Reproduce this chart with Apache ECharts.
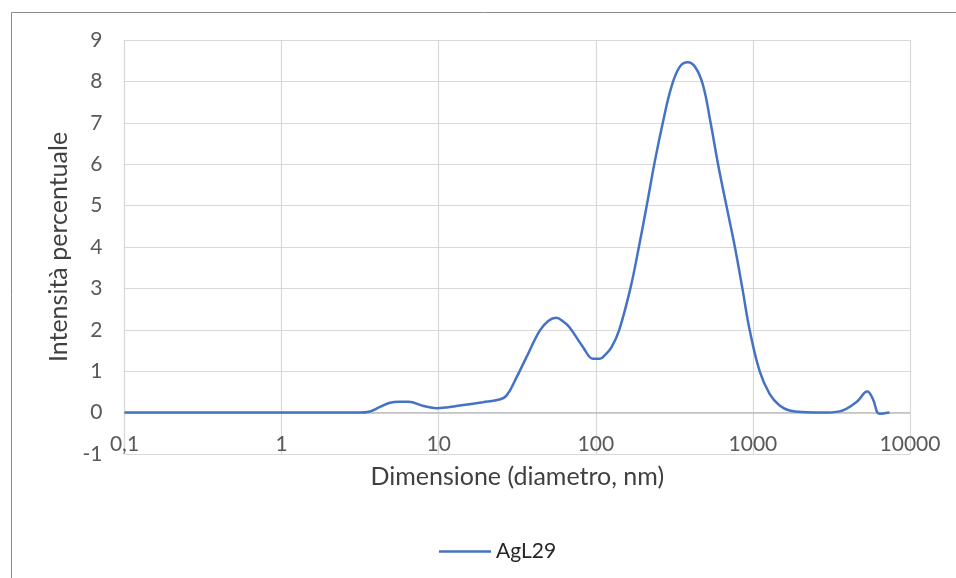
<!DOCTYPE html>
<html>
<head>
<meta charset="utf-8">
<script src="https://cdn.jsdelivr.net/npm/echarts@6/dist/echarts.min.js"></script>
<style>
  html, body { margin: 0; padding: 0; background: #fff; }
  #chart { width: 956px; height: 578px; }
</style>
</head>
<body>
<div id="chart"></div>
<script>
/*
 * Distribuzione dimensionale (DLS) del campione AgL29 — intensita vs diametro, asse x log.
 */
var seriesName = 'AgL29';
var diametri = [0.1, 0.5, 1, 2, 3.15, 3.6, 4.2, 4.9, 5.6, 6.4, 8.0, 9.7, 11.5, 13.6, 19.1, 23.9, 27, 31.3, 36.2, 44, 50, 56, 62, 68, 83, 96, 106, 115, 126, 141, 166, 188, 211, 237, 267, 302, 342, 385, 432, 482, 538, 600, 678, 768, 857, 953, 1104, 1277, 1479, 1710, 2200, 2790, 3560, 4550, 5350, 5800, 6400, 7400];
var intensita = [0, 0, 0, 0, 0, 0.02, 0.13, 0.24, 0.26, 0.26, 0.16, 0.105, 0.13, 0.17, 0.25, 0.31, 0.41, 0.85, 1.34, 1.98, 2.22, 2.29, 2.2, 2.06, 1.58, 1.30, 1.30, 1.40, 1.58, 2.0, 3.0, 4.0, 5.0, 6.05, 7.0, 7.85, 8.35, 8.46, 8.33, 7.9, 7.0, 6.0, 5.0, 4.0, 3.0, 2.0, 1.0, 0.45, 0.17, 0.05, 0.01, 0, 0.03, 0.25, 0.51, 0.33, -0.03, 0];

var FONT = 'Lato, "Open Sans", sans-serif';
var LINE_COLOR = '#4472c4';

var chart = echarts.init(document.getElementById('chart'));
chart.setOption({
  animation: false,
  textStyle: { fontFamily: FONT },
  graphic: [{
    type: 'rect', left: 9, top: 10, silent: true,
    shape: { width: 1000, height: 1000 },
    style: { fill: 'none', stroke: '#8a8a8a', lineWidth: 1 }
  }],
  legend: {
    left: 434, top: 536,
    icon: 'rect', itemWidth: 52, itemHeight: 2.5,
    itemStyle: { color: LINE_COLOR },
    textStyle: { color: '#262626', fontSize: 21, fontFamily: FONT },
    data: [seriesName]
  },
  grid: { left: 124.5, right: 46, top: 40, bottom: 124, containLabel: false },
  xAxis: {
    type: 'log', logBase: 10, min: 0.1, max: 10000,
    name: 'Dimensione (diametro, nm)', nameLocation: 'middle', nameGap: 10,
    nameTextStyle: { color: '#404040', fontSize: 25, fontFamily: FONT },
    axisLine: { onZero: true, lineStyle: { color: '#bfbfbf', width: 1.5 } },
    axisTick: { show: false },
    axisLabel: {
      color: '#595959', fontSize: 21, margin: -20, showMinLabel: true, showMaxLabel: true,
      formatter: function (v) { return String(v).replace('.', ','); }
    },
    splitLine: { show: true, lineStyle: { color: '#d9d9d9', width: 1.2 } }
  },
  yAxis: {
    type: 'value', min: -1, max: 9, interval: 1,
    name: 'Intensità percentuale', nameLocation: 'middle', nameGap: 49,
    nameTextStyle: { color: '#404040', fontSize: 25, fontFamily: FONT },
    axisLine: { show: true, lineStyle: { color: '#d9d9d9', width: 1.2 } },
    axisTick: { show: false },
    axisLabel: { color: '#595959', fontSize: 21, margin: 22 },
    splitLine: { show: true, lineStyle: { color: '#d9d9d9', width: 1.2 } }
  },
  series: [{
    name: seriesName,
    type: 'line',
    smooth: 0.4,
    symbol: 'none',
    lineStyle: { color: LINE_COLOR, width: 2.5 },
    itemStyle: { color: LINE_COLOR },
    data: diametri.map(function (d, i) { return [d, intensita[i]]; })
  }]
});
</script>
</body>
</html>
